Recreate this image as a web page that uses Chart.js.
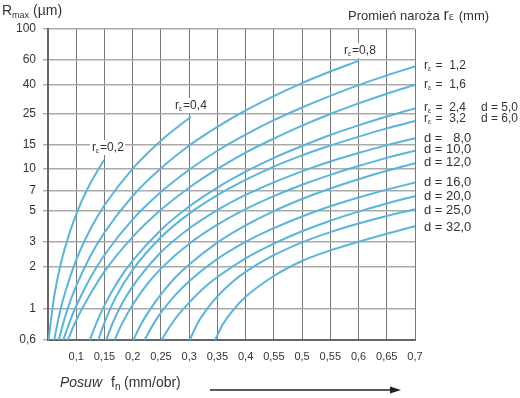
<!DOCTYPE html>
<html>
<head>
<meta charset="utf-8">
<script src="https://cdn.jsdelivr.net/npm/chart.js@4.4.0/dist/chart.umd.min.js"></script>
<style>
html,body{margin:0;padding:0;background:#fff}
#wrap{width:520px;height:398px}
</style>
</head>
<body>
<div id="wrap"><canvas id="c" width="520" height="398"></canvas></div>
<script>
// osie
const yTicks = [0.6, 1, 2, 3, 5, 7, 10, 15, 25, 40, 60, 100];
const yTickLabels = ['0,6', '1', '2', '3', '5', '7', '10', '15', '25', '40', '60', '100'];
const xTicks = [0.05, 0.1, 0.15, 0.2, 0.25, 0.3, 0.35, 0.4, 0.45, 0.5, 0.55, 0.6, 0.65, 0.7];
const xTickLabels = ['', '0,1', '0,15', '0,2', '0,25', '0,3', '0,35', '0,4', '0,55', '0,5', '0,55', '0,6', '0,65', '0,7'];

// krzywe: posuw f (mm/obr) i Rmax (µm)
const f_r02 = [0.051, 0.06, 0.07, 0.08, 0.1, 0.12, 0.149];
const R_r02 = [0.6, 1.16, 1.89, 2.73, 4.75, 7.22, 11.6];
const f_r04 = [0.061, 0.07, 0.08, 0.1, 0.125, 0.15, 0.2, 0.25, 0.303];
const R_r04 = [0.6, 0.91, 1.3, 2.24, 3.71, 5.5, 10.07, 15.94, 23.6];
const f_r08 = [0.069, 0.08, 0.09, 0.1, 0.125, 0.15, 0.2, 0.25, 0.3, 0.35, 0.4, 0.45, 0.5, 0.55, 0.601];
const R_r08 = [0.6, 0.87, 1.15, 1.46, 2.39, 3.52, 6.41, 10.1, 14.7, 20.0, 26.2, 33.2, 41.1, 49.7, 59.4];
const f_r12 = [0.077, 0.09, 0.1, 0.125, 0.15, 0.2, 0.25, 0.3, 0.35, 0.4, 0.45, 0.5, 0.55, 0.6, 0.65, 0.7];
const R_r12 = [0.6, 0.84, 1.05, 1.67, 2.43, 4.36, 6.84, 9.87, 13.5, 17.6, 22.3, 27.5, 33.3, 39.7, 46.6, 54.0];
const f_r16 = [0.085, 0.1, 0.125, 0.15, 0.2, 0.25, 0.3, 0.35, 0.4, 0.45, 0.5, 0.55, 0.6, 0.65, 0.7];
const R_r16 = [0.6, 0.83, 1.28, 1.85, 3.27, 5.11, 7.35, 10.0, 13.1, 16.5, 20.4, 24.7, 29.4, 34.5, 40.0];
const f_r24 = [0.124, 0.135, 0.15, 0.175, 0.2, 0.25, 0.3, 0.35, 0.4, 0.45, 0.5, 0.55, 0.6, 0.65, 0.7];
const R_r24 = [0.6, 0.78, 1.06, 1.6, 2.21, 3.67, 5.39, 7.36, 9.56, 12.0, 14.6, 17.5, 20.5, 23.7, 27.1];
const f_r32 = [0.139, 0.15, 0.17, 0.2, 0.25, 0.3, 0.35, 0.4, 0.45, 0.5, 0.55, 0.6, 0.65, 0.7];
const R_r32 = [0.6, 0.8, 1.21, 1.9, 3.25, 4.8, 6.51, 8.36, 10.4, 12.5, 14.7, 17.0, 19.5, 22.0];
const f_d8 = [0.153, 0.165, 0.18, 0.2, 0.25, 0.3, 0.35, 0.4, 0.45, 0.5, 0.55, 0.6, 0.65, 0.7];
const R_d8 = [0.6, 0.8, 1.07, 1.45, 2.54, 3.76, 5.09, 6.52, 8.03, 9.62, 11.3, 13.0, 14.8, 16.6];
const f_d10 = [0.168, 0.18, 0.2, 0.225, 0.25, 0.3, 0.35, 0.4, 0.45, 0.5, 0.55, 0.6, 0.65, 0.7];
const R_d10 = [0.6, 0.77, 1.07, 1.49, 1.94, 2.92, 4.0, 5.17, 6.4, 7.71, 9.08, 10.5, 12.0, 13.5];
const f_d12 = [0.201, 0.215, 0.23, 0.25, 0.275, 0.3, 0.35, 0.4, 0.45, 0.5, 0.55, 0.6, 0.65, 0.7];
const R_d12 = [0.6, 0.78, 0.98, 1.27, 1.67, 2.08, 2.98, 3.95, 5.0, 6.1, 7.25, 8.45, 9.7, 11.0];
const f_d16 = [0.221, 0.235, 0.25, 0.275, 0.3, 0.35, 0.4, 0.45, 0.5, 0.55, 0.6, 0.65, 0.7];
const R_d16 = [0.6, 0.76, 0.94, 1.25, 1.58, 2.28, 3.02, 3.78, 4.58, 5.41, 6.25, 7.12, 8.0];
const f_d20 = [0.251, 0.265, 0.28, 0.3, 0.325, 0.35, 0.4, 0.45, 0.5, 0.55, 0.6, 0.65, 0.7];
const R_d20 = [0.6, 0.74, 0.9, 1.11, 1.4, 1.69, 2.3, 2.93, 3.59, 4.27, 4.96, 5.67, 6.4];
const f_d25 = [0.301, 0.315, 0.33, 0.35, 0.375, 0.4, 0.45, 0.5, 0.55, 0.6, 0.65, 0.7];
const R_d25 = [0.6, 0.79, 0.98, 1.23, 1.54, 1.84, 2.42, 2.99, 3.54, 4.08, 4.62, 5.15];
const f_d32 = [0.346, 0.36, 0.375, 0.4, 0.45, 0.5, 0.55, 0.6, 0.65, 0.7];
const R_d32 = [0.6, 0.78, 0.95, 1.22, 1.72, 2.2, 2.62, 3.02, 3.45, 3.9];

const curves = [
  [f_r02, R_r02], [f_r04, R_r04], [f_r08, R_r08], [f_r12, R_r12], [f_r16, R_r16],
  [f_r24, R_r24], [f_r32, R_r32], [f_d8, R_d8], [f_d10, R_d10], [f_d12, R_d12],
  [f_d16, R_d16], [f_d20, R_d20], [f_d25, R_d25], [f_d32, R_d32]
];

const BLUE = '#5ab5da';
const TXT = '#333';
const FONT = '"Liberation Sans", Arial, sans-serif';

function rEps(ctx, x, y, rest, size){
  // r z indeksem ε
  ctx.font = size + 'px ' + FONT;
  ctx.fillText('r', x, y);
  let w = ctx.measureText('r').width;
  ctx.font = (size - 5) + 'px ' + FONT;
  ctx.fillText('ε', x + w, y + 2);
  w += ctx.measureText('ε').width + 1;
  ctx.font = size + 'px ' + FONT;
  ctx.fillText(rest, x + w, y);
  return w + ctx.measureText(rest).width;
}

const texts = {
  id: 'texts',
  afterDraw(chart){
    const ctx = chart.ctx;
    ctx.save();
    ctx.fillStyle = TXT;
    ctx.textBaseline = 'alphabetic';
    ctx.textAlign = 'left';

    // Rmax (µm)
    ctx.font = '14px ' + FONT;
    ctx.fillText('R', 2, 15);
    ctx.font = '9px ' + FONT;
    ctx.fillText('max', 12, 18);
    ctx.font = '14px ' + FONT;
    ctx.fillText('(µm)', 33, 15);

    // Promień naroża rε (mm)
    ctx.font = '13px ' + FONT;
    ctx.fillText('Promień naroża', 348, 20);
    let x = 348 + ctx.measureText('Promień naroża ').width;
    ctx.font = '16px ' + FONT;
    ctx.fillText('r', x, 20);
    x += ctx.measureText('r').width;
    ctx.font = '12px serif';
    ctx.fillText('ε', x, 20);
    x += ctx.measureText('ε ').width;
    ctx.font = '13px ' + FONT;
    ctx.fillText('(mm)', x + 2, 20);

    // etykiety krzywych wewnątrz wykresu (z białym tłem)
    const inner = [[92, 151, '=0,2'], [175, 109, '=0,4'], [344, 54, '=0,8']];
    inner.forEach(([lx, ly, t]) => {
      ctx.fillStyle = '#fff';
      ctx.fillRect(lx - 2, ly - 11, 35, 15);
      ctx.fillStyle = TXT;
      rEps(ctx, lx, ly, t, 12);
    });

    // etykiety po prawej
    const right = [[69, ' =  1,2'], [88, ' =  1,6'], [111, ' =  2,4'], [122, ' =  3,2']];
    right.forEach(([ly, t]) => rEps(ctx, 424, ly, t, 12));
    ctx.font = '12px ' + FONT;
    ctx.fillText('d = 5,0', 481, 111);
    ctx.fillText('d = 6,0', 481, 122);
    const dl = [[142, 'd =   8,0'], [153, 'd = 10,0'], [166, 'd = 12,0'], [186, 'd = 16,0'], [200, 'd = 20,0'], [214, 'd = 25,0'], [231, 'd = 32,0']];
    ctx.font = '13px ' + FONT;
    dl.forEach(([ly, t]) => ctx.fillText(t, 424, ly));

    // Posuw fn (mm/obr)
    ctx.font = 'italic 14px ' + FONT;
    ctx.fillText('Posuw', 60, 387);
    ctx.font = '14px ' + FONT;
    ctx.fillText('f', 111, 387);
    ctx.font = '10px ' + FONT;
    ctx.fillText('n', 115, 390);
    ctx.font = '14px ' + FONT;
    ctx.fillText('(mm/obr)', 124, 387);

    // strzałka
    ctx.strokeStyle = '#222';
    ctx.lineWidth = 1.3;
    ctx.beginPath();
    ctx.moveTo(210, 390);
    ctx.lineTo(392, 390);
    ctx.stroke();
    ctx.fillStyle = '#222';
    ctx.beginPath();
    ctx.moveTo(401, 390);
    ctx.lineTo(390, 386.5);
    ctx.lineTo(390, 393.5);
    ctx.closePath();
    ctx.fill();
    ctx.restore();
  }
};

new Chart(document.getElementById('c'), {
  type: 'line',
  data: {
    datasets: curves.map(([f, R]) => ({
      data: f.map((v, i) => ({x: v, y: R[i]})),
      borderColor: BLUE,
      borderWidth: 2,
      pointRadius: 0,
      fill: false,
      cubicInterpolationMode: 'monotone'
    }))
  },
  options: {
    responsive: false,
    animation: false,
    devicePixelRatio: 1,
    layout: {padding: {top: 29, right: 105, left: 0, bottom: 0}},
    plugins: {legend: {display: false}, tooltip: {enabled: false}},
    scales: {
      x: {
        type: 'linear', min: 0.05, max: 0.7,
        afterBuildTicks: s => { s.ticks = xTicks.map(v => ({value: v})); },
        afterFit: s => { s.height = 58; },
        ticks: {
          callback: (v, i) => xTickLabels[i],
          autoSkip: false, maxRotation: 0, padding: 10,
          color: TXT, font: {family: FONT, size: 11}
        },
        grid: {color: '#777', lineWidth: 1, drawTicks: false},
        border: {color: '#666', width: 2}
      },
      y: {
        type: 'logarithmic', min: 0.6, max: 100,
        afterBuildTicks: s => { s.ticks = yTicks.map(v => ({value: v})); },
        afterFit: s => { s.width = 48; },
        ticks: {
          callback: (v, i) => yTickLabels[i],
          autoSkip: false, padding: 7,
          color: TXT, font: {family: FONT, size: 12}
        },
        grid: {color: '#aaa', lineWidth: 1.4, tickLength: 5},
        border: {color: '#666', width: 2}
      }
    }
  },
  plugins: [texts]
});
</script>
</body>
</html>
